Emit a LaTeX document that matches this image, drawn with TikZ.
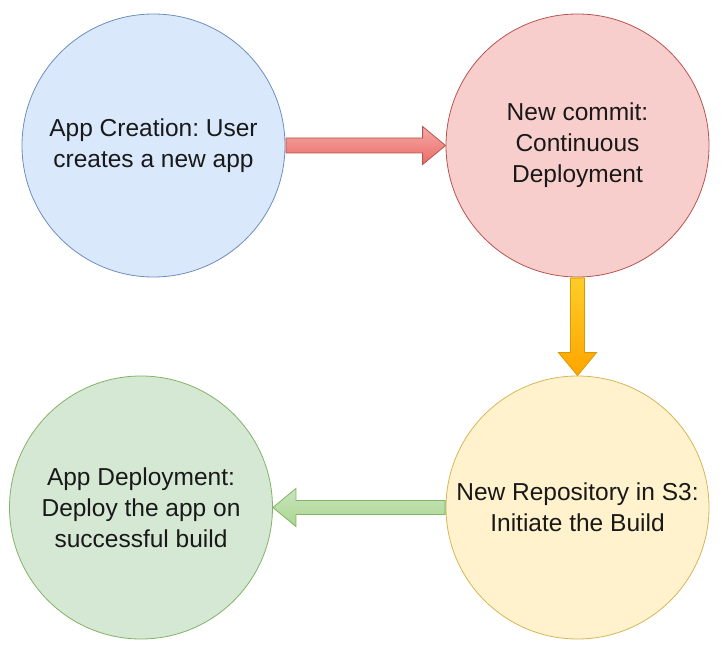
\documentclass[tikz,border=0pt]{standalone}
\usepackage{fontspec}
\setmainfont{Liberation Sans}
\usetikzlibrary{calc}
\frenchspacing
\definecolor{bluefill}{HTML}{DAE8FC}
\definecolor{bluedraw}{HTML}{6C8EBF}
\definecolor{redfill}{HTML}{F8CECC}
\definecolor{reddraw}{HTML}{B85450}
\definecolor{yellowfill}{HTML}{FFF2CC}
\definecolor{yellowdraw}{HTML}{D6B656}
\definecolor{greenfill}{HTML}{D5E8D4}
\definecolor{greendraw}{HTML}{82B366}
\definecolor{redarrowA}{HTML}{F5A9A6}
\definecolor{redarrowB}{HTML}{EA6B66}
\definecolor{orangeA}{HTML}{FFCD28}
\definecolor{orangeB}{HTML}{FFA500}
\definecolor{orangedraw}{HTML}{D79B00}
\definecolor{greenA}{HTML}{C9E5BE}
\definecolor{greenB}{HTML}{A9D68F}
\tikzset{
  circ/.style={circle, minimum size=263pt, inner sep=0pt, line width=0.8pt,
    align=center, font=\fontsize{24.5}{31}\selectfont, text=black!90},
  fatarrow/.style={line width=0.8pt, line join=miter}
}
\begin{document}
\begin{tikzpicture}[x=1pt,y=-1pt]
\useasboundingbox (0,0) rectangle (723,655);
\node[circ, fill=bluefill, draw=bluedraw] (blue) at (153.5,145.5) {App Creation: User\\creates a new app};
\node[circ, fill=redfill, draw=reddraw] (red) at (577.5,145.5) {New commit:\\Continuous\\Deployment};
\node[circ, fill=yellowfill, draw=yellowdraw] (yellow) at (577.5,507.5) {New Repository in S3:\\Initiate the Build};
\node[circ, fill=greenfill, draw=greendraw] (green) at (141,507.5) {App Deployment:\\Deploy the app on\\successful build};
% red arrow: blue -> red
\shade[fatarrow, top color=redarrowA, bottom color=redarrowB, draw=reddraw]
  ($(blue.east)+(0.5,-7.5)$) -- ($(red.west)+(-23,-7.5)$) -- ($(red.west)+(-23,-19)$)
  -- (red.west) -- ($(red.west)+(-23,19)$) -- ($(red.west)+(-23,7.5)$)
  -- ($(blue.east)+(0.5,7.5)$) -- cycle;
% orange arrow: red -> yellow
\shade[fatarrow, top color=orangeA, bottom color=orangeB, draw=orangedraw]
  ($(red.south)+(-7,0.5)$) -- ($(yellow.north)+(-7,-23)$) -- ($(yellow.north)+(-19,-23)$)
  -- (yellow.north) -- ($(yellow.north)+(19,-23)$) -- ($(yellow.north)+(7,-23)$)
  -- ($(red.south)+(7,0.5)$) -- cycle;
% green arrow: yellow -> green
\shade[fatarrow, top color=greenA, bottom color=greenB, draw=greendraw]
  ($(yellow.west)+(-0.5,-7)$) -- ($(green.east)+(23,-7)$) -- ($(green.east)+(23,-19)$)
  -- (green.east) -- ($(green.east)+(23,19)$) -- ($(green.east)+(23,7)$)
  -- ($(yellow.west)+(-0.5,7)$) -- cycle;
\end{tikzpicture}
\end{document}
